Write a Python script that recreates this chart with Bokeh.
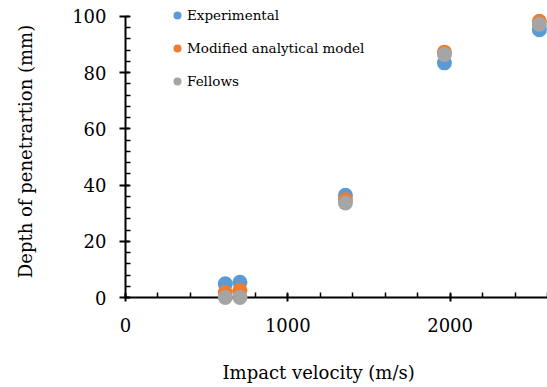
from bokeh.plotting import figure
from bokeh.models import Range1d, SingleIntervalTicker, Legend, LegendItem, Title
from bokeh.embed import file_html
from bokeh.resources import INLINE

# ---- data ----
velocity = [615, 705, 1355, 1965, 2550]          # Impact velocity (m/s)
experimental = [4.9, 5.4, 36.4, 83.5, 95.3]        # Depth of penetration (mm)
modified_model = [1.8, 2.6, 34.8, 87.3, 98.3]
fellows = [0.0, 0.0, 33.6, 86.5, 97.2]

series_names = ["Experimental", "Modified analytical model", "Fellows"]
series_colors = ["#5B9BD5", "#ED7D31", "#A5A5A5"]

x_title = "Impact velocity (m/s)"
y_title = "Depth of penetrartion (mm)"
x_ticks_interval = 1000
y_ticks_interval = 20
y_axis_bounds = (0, 100)

FONT = "DejaVu Serif"

p = figure(width=547, height=387, output_backend="svg", toolbar_location=None,
           x_range=Range1d(0, 2600), y_range=Range1d(0, 103.9),
           min_border_left=125, min_border_right=0,
           min_border_top=5, min_border_bottom=90,
           background_fill_color="white", border_fill_color="white")
p.outline_line_color = None
p.grid.visible = False

p.xaxis.ticker = SingleIntervalTicker(interval=x_ticks_interval, num_minor_ticks=5)
p.yaxis.ticker = SingleIntervalTicker(interval=y_ticks_interval, num_minor_ticks=5)
p.yaxis.bounds = y_axis_bounds

for ax in (p.xaxis, p.yaxis):
    ax.axis_line_color = "black"
    ax.axis_line_width = 2
    ax.major_tick_line_color = "black"
    ax.major_tick_line_width = 2
    ax.minor_tick_line_color = "black"
    ax.minor_tick_line_width = 1.5
    ax.major_label_text_font = FONT
    ax.major_label_text_font_size = "18px"
    ax.major_label_text_color = "black"
    ax.axis_label_text_font = FONT
    ax.axis_label_text_font_size = "18px"
    ax.axis_label_text_font_style = "normal"
    ax.axis_label_text_color = "black"

p.xaxis.major_tick_in = 4
p.xaxis.major_tick_out = 4
p.xaxis.minor_tick_in = 5
p.xaxis.minor_tick_out = 0
p.xaxis.major_label_standoff = 16

p.yaxis.major_tick_in = 4
p.yaxis.major_tick_out = 6
p.yaxis.minor_tick_in = 5
p.yaxis.minor_tick_out = 0
p.yaxis.major_label_standoff = 13
p.yaxis.axis_label = y_title
p.yaxis.axis_label_standoff = 33

# x-axis title, placed left-aligned with an offset (reference centres it left of the frame centre)
p.add_layout(Title(text=x_title, align="left", offset=97, standoff=0, padding=(0, 0, 25, 0),
                   text_font=FONT, text_font_size="18px", text_font_style="normal",
                   text_color="black"), "below")

renderers = []
for ys, name, color in zip([experimental, modified_model, fellows], series_names, series_colors):
    r = p.scatter(velocity, ys, marker="circle", size=15,
                  fill_color=color, line_color=None, level="overlay")
    renderers.append(r)

legend = Legend(items=[LegendItem(label=n, renderers=[r]) for n, r in zip(series_names, renderers)],
                location=(42, 205), orientation="vertical",
                glyph_width=20, glyph_height=22, label_height=22, spacing=11,
                padding=0, margin=0, label_standoff=0,
                border_line_color=None, background_fill_alpha=0,
                label_text_font=FONT, label_text_font_size="13.5px", label_text_color="black")
p.add_layout(legend)

open("out.html", "w").write(file_html(p, INLINE))
